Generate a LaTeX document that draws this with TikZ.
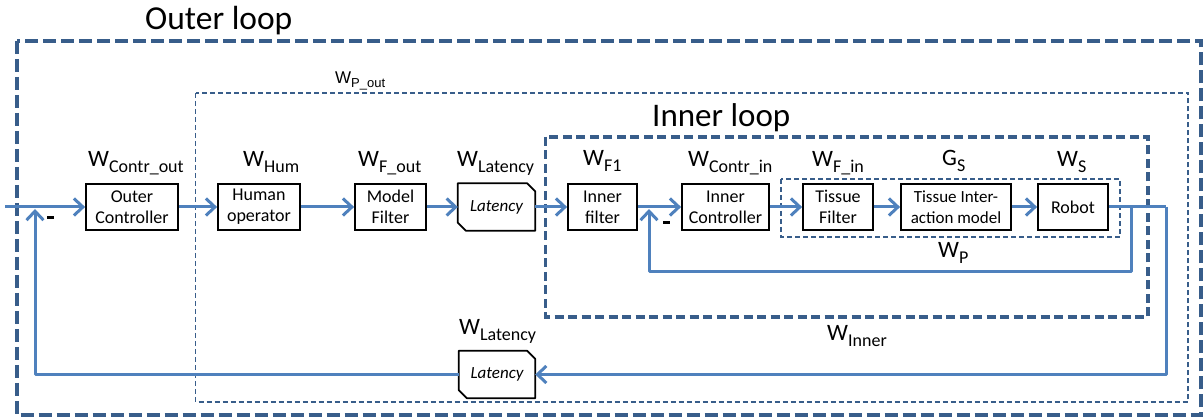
\documentclass[tikz,border=0pt]{standalone}
\usepackage{fontspec}
\setmainfont{Carlito}
\newfontfamily\arialf{Liberation Sans}
\usetikzlibrary{arrows.meta,calc}
\definecolor{lineblue}{HTML}{4F81BD}
\definecolor{dashblue}{HTML}{385D8A}
\newcommand{\wlab}[2]{{\fontsize{23.5}{25}\selectfont #1}\raisebox{-6pt}{\fontsize{18}{20}\selectfont #2}}
\begin{document}
\begin{tikzpicture}[x=1pt,y=-1pt,
 blk/.style={draw=black,line width=1.8pt,align=center,inner sep=0pt,minimum height=46pt,font=\fontsize{18}{21}\selectfont},
 latn/.style={inner sep=0pt,minimum height=47pt,font=\fontsize{17}{20}\selectfont\itshape},
 latbox/.style={draw=black,line width=1.8pt,line join=round},
 sig/.style={draw=lineblue,line width=3pt,line join=round},
 arr/.style={sig,-{Straight Barb[length=9pt,width=17pt]}},
 bigdash/.style={draw=dashblue,line width=4pt,dash pattern=on 13pt off 5pt},
 middash/.style={draw=dashblue,line width=3.5pt,dash pattern=on 9pt off 4.5pt},
 thindash/.style={draw=dashblue,line width=1.6pt,dash pattern=on 5pt off 3pt},
 wl/.style={anchor=base west,inner sep=0pt},
 ttl/.style={anchor=base west,inner sep=0pt,font=\fontsize{33.5}{36}\selectfont},
 minus/.style={fill=black,inner sep=0pt,minimum width=7pt,minimum height=3pt}]
\useasboundingbox (0,0) rectangle (1203,419);

% dashed frames
\draw[bigdash] (16.5,41) rectangle (1201,415);
\draw[thindash] (195.5,93) rectangle (1188,402);
\draw[middash] (545.5,137) rectangle (1148,317);
\draw[thindash] (781,179) rectangle (1120,237);

% titles
\node[ttl] (tout) at (145,30) {Outer loop};
\node[ttl,font=\fontsize{33}{36}\selectfont] (tin) at (652,127) {Inner loop};

% blocks
\node[blk,minimum width=92pt] (oc) at (132,207) {Outer\\Controller};
\node[blk,minimum width=82pt] (ho) at (259,207) {Human\\operator};
\node[blk,minimum width=71pt] (mf) at (390.5,207) {Model\\Filter};
\node[latn,minimum width=77pt] (l1) at (496.5,207) {Latency};
\node[blk,minimum width=69pt] (if) at (602.5,207) {Inner\\filter};
\node[blk,minimum width=87pt] (ic) at (725.5,207) {Inner\\Controller};
\node[blk,minimum width=70pt] (tf) at (838,207) {Tissue\\Filter};
\node[blk,minimum width=110pt,font=\fontsize{17}{21}\selectfont] (tim) at (956,207) {Tissue Inter-\\action model};
\node[blk,minimum width=70pt] (rob) at (1073,207) {Robot};
\node[latn,minimum width=76pt] (l2) at (497,374.5) {Latency};

\foreach \n in {l1,l2}{
  \draw[latbox] (\n.north west) -- ($(\n.north east)+(-8,0)$) -- ($(\n.north east)+(0,8)$)
    -- (\n.south east) -- ($(\n.south west)+(8,0)$) -- ($(\n.south west)+(0,-8)$) -- cycle;
}

% labels
\node[wl] (w1) at (88,167) {\wlab{W}{Contr\_out}};
\node[wl] (w2) at (243,167) {\wlab{W}{Hum}};
\node[wl] (w3) at (358,167) {\wlab{W}{F\_out}};
\node[wl] (w4) at (457,167) {\wlab{W}{Latency}};
\node[wl] (w5) at (583,166) {\wlab{W}{F1}};
\node[wl] (w6) at (688,167) {\wlab{W}{Contr\_in}};
\node[wl] (w7) at (812,167) {\wlab{W}{F\_in}};
\node[wl] (w8) at (942,166) {\wlab{G}{S}};
\node[wl] (w9) at (1057,167) {\wlab{W}{S}};
\node[wl] (w10) at (938,258) {\wlab{W}{P}};
\node[wl] (w11) at (459,335) {\wlab{W}{Latency}};
\node[wl] (w12) at (827,341) {\wlab{W}{Inner}};
\node[wl] (w13) at (335,84) {{\arialf\fontsize{17}{19}\selectfont W}\raisebox{-4pt}{\arialf\fontsize{13}{15}\selectfont P\_out}};

\node[minus] (m1) at (50,218) {};
\node[minus] (m2) at (666,223) {};

% signal lines
\coordinate (start) at (5,207);
\coordinate (s1) at (35,209);
\coordinate (s2) at (649,209);
\coordinate (b1) at (1131,207);
\coordinate (b2) at (1166,207);
\coordinate (f1) at (1131,272);

\draw[arr] (start) -- (oc);
\draw[arr] (oc) -- (ho);
\draw[arr] (ho) -- (mf);
\draw[arr] (mf) -- (l1);
\draw[arr] (l1) -- (if);
\draw[arr] (if) -- (ic);
\draw[arr] (ic) -- (tf);
\draw[arr] (tf) -- (tim);
\draw[arr] (tim) -- (rob);
\draw[sig] (rob) -- (b2);
\draw[arr] (b2) |- (l2);
\draw[arr] (l2) -| (s1);
\draw[arr] (b1) -- (f1) -| (s2);
\end{tikzpicture}
\end{document}
